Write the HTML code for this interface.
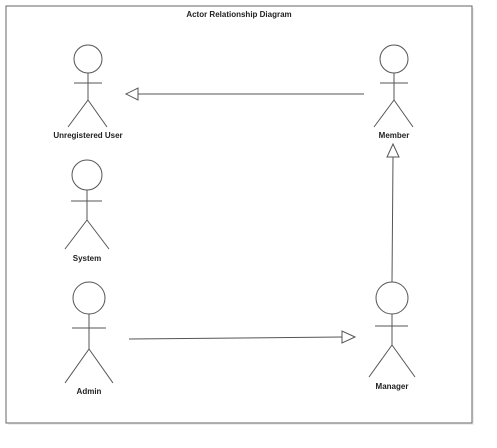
<!DOCTYPE html>
<html><head><style>html,body{margin:0;padding:0;background:#fff;}svg{display:block;}</style></head>
<body>
<svg width="497" height="448" viewBox="0 0 497 448" xmlns="http://www.w3.org/2000/svg" font-family="Liberation Sans, sans-serif">
<rect x="8" y="8" width="466" height="417" fill="#eee"/>
<rect x="6" y="6" width="466" height="417" fill="#fff" stroke="#666" stroke-width="1"/>
<text x="239" y="17" font-size="8" font-weight="bold" text-anchor="middle" fill="#222">Actor Relationship Diagram</text>
<g stroke="#555" stroke-width="1" fill="none">
<!-- Unregistered -->
<circle cx="88" cy="59" r="14"/>
<path d="M88 73V100M74 83H102M88 100L68 127M88 100L107 127"/>
<!-- Member -->
<circle cx="394" cy="59" r="14"/>
<path d="M394 73V100M380 83H408M394 100L374 127M394 100L413 127"/>
<!-- System -->
<circle cx="87" cy="175" r="15"/>
<path d="M87 190V220M71 201H102M87 220L65 249M87 220L109 249"/>
<!-- Admin -->
<circle cx="89" cy="298" r="16"/>
<path d="M89 314V349M72 328H106M89 349L65 383M89 349L113 383"/>
<!-- Manager -->
<circle cx="392" cy="298" r="16"/>
<path d="M392 314V345M375 326H408M392 345L369 377M392 345L415 377"/>
<!-- arrows -->
<path d="M364 94H138"/>
<path d="M126 94L138 88V100Z" fill="#fff"/>
<path d="M129 339L342 337"/>
<path d="M355 337L342 331V343Z" fill="#fff"/>
<path d="M392 282L393 157"/>
<path d="M393 144L387 157H399Z" fill="#fff"/>
</g>
<g font-size="8" font-weight="bold" text-anchor="middle" fill="#222">
<text x="88" y="138">Unregistered User</text>
<text x="394" y="138">Member</text>
<text x="87" y="261">System</text>
<text x="89" y="394">Admin</text>
<text x="392" y="389">Manager</text>
</g>
</svg>
</body></html>
